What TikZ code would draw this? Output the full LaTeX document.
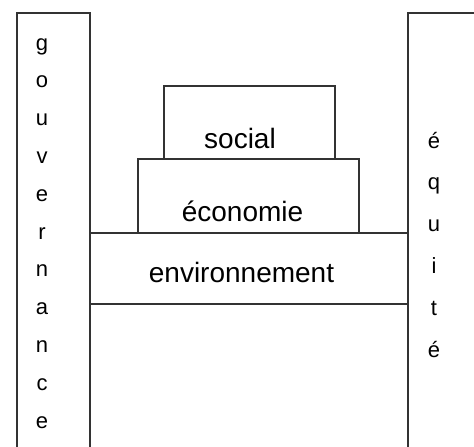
\documentclass[tikz,border=0pt]{standalone}
\usepackage{fontspec}
\setmainfont{Liberation Sans}
\begin{document}
\begin{tikzpicture}[x=1pt,y=-1pt,
    box/.style={draw=black!80, line width=1.2pt},
    word/.style={font=\fontsize{28}{30}\selectfont, anchor=base, inner sep=0pt},
    letter/.style={font=\fontsize{22}{24}\selectfont, anchor=base, inner sep=0pt}]
        \useasboundingbox (0,0) rectangle (474,447);

        % pillars
        \draw[box] (17,447) -- (17,13) -- (90,13) -- (90,447);
        \draw[box] (474,13) -- (408,13) -- (408,447);

        % stacked layers
        \draw[box] (90,233) -- (408,233);
        \draw[box] (90,304) -- (408,304);
        \draw[box] (138,233) -- (138,159) -- (359,159) -- (359,233);
        \draw[box] (164,159) -- (164,86) -- (335,86) -- (335,159);

        \node[word] (social) at (240,148) {social};
        \node[word] (economie) at (242.5,221) {économie};
        \node[word] (environnement) at (241.5,282) {environnement};

        \foreach \c [count=\i from 0] in {g,o,u,v,e,r,n,a,n,c,e}
            \node[letter] (gouv\i) at (42,{50+37.8*\i}) {\c};
        \foreach \c [count=\i from 0] in {é,q,u,i,t,é}
            \node[letter] (equi\i) at (434,{148+41.8*\i}) {\c};

    \end{tikzpicture}
\end{document}
